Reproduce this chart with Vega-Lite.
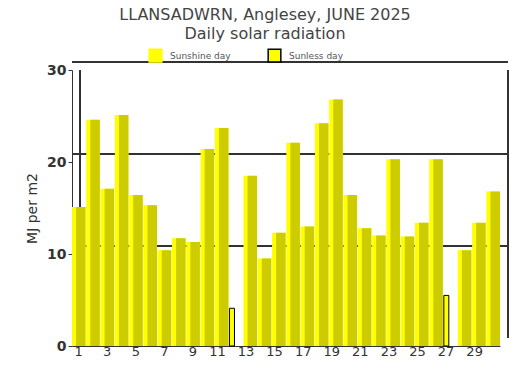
{
  "$schema": "https://vega.github.io/schema/vega-lite/v6.json",
  "autosize": "none",
  "width": 428,
  "height": 276,
  "padding": {"left": 72, "top": 70, "right": 21, "bottom": 32},
  "background": "white",
  "config": {"view": {"stroke": null}, "font": "DejaVu Sans"},
  "title": {
    "text": ["LLANSADWRN, Anglesey, JUNE 2025", "Daily solar radiation"],
    "fontSize": 16,
    "fontWeight": "normal",
    "color": "#444444",
    "anchor": "middle",
    "dx": -21,
    "offset": 6,
    "lineHeight": 19
  },
  "data": {
    "values": [
      {"day": 1, "value": 15.1, "type": "Sunshine day"},
      {"day": 2, "value": 24.6, "type": "Sunshine day"},
      {"day": 3, "value": 17.1, "type": "Sunshine day"},
      {"day": 4, "value": 25.1, "type": "Sunshine day"},
      {"day": 5, "value": 16.4, "type": "Sunshine day"},
      {"day": 6, "value": 15.3, "type": "Sunshine day"},
      {"day": 7, "value": 10.4, "type": "Sunshine day"},
      {"day": 8, "value": 11.7, "type": "Sunshine day"},
      {"day": 9, "value": 11.3, "type": "Sunshine day"},
      {"day": 10, "value": 21.4, "type": "Sunshine day"},
      {"day": 11, "value": 23.7, "type": "Sunshine day"},
      {"day": 12, "value": 4.1, "type": "Sunless day"},
      {"day": 13, "value": 18.5, "type": "Sunshine day"},
      {"day": 14, "value": 9.5, "type": "Sunshine day"},
      {"day": 15, "value": 12.3, "type": "Sunshine day"},
      {"day": 16, "value": 22.1, "type": "Sunshine day"},
      {"day": 17, "value": 13.0, "type": "Sunshine day"},
      {"day": 18, "value": 24.2, "type": "Sunshine day"},
      {"day": 19, "value": 26.8, "type": "Sunshine day"},
      {"day": 20, "value": 16.4, "type": "Sunshine day"},
      {"day": 21, "value": 12.8, "type": "Sunshine day"},
      {"day": 22, "value": 12.0, "type": "Sunshine day"},
      {"day": 23, "value": 20.3, "type": "Sunshine day"},
      {"day": 24, "value": 11.9, "type": "Sunshine day"},
      {"day": 25, "value": 13.4, "type": "Sunshine day"},
      {"day": 26, "value": 20.3, "type": "Sunshine day"},
      {"day": 27, "value": 5.5, "type": "Sunless day"},
      {"day": 28, "value": 10.4, "type": "Sunshine day"},
      {"day": 29, "value": 13.4, "type": "Sunshine day"},
      {"day": 30, "value": 16.8, "type": "Sunshine day"}
    ]
  },
  "layer": [
    {
      "mark": {"type": "rule", "color": "#333333", "strokeWidth": 1, "xOffset": 8, "yOffset": -8},
      "encoding": {"y": {"datum": 10, "type": "quantitative"}}
    },
    {
      "mark": {"type": "rule", "color": "#333333", "strokeWidth": 1, "xOffset": 8, "yOffset": -8},
      "encoding": {"y": {"datum": 20, "type": "quantitative"}}
    },
    {
      "mark": {"type": "rule", "color": "#333333", "strokeWidth": 1, "xOffset": 8, "yOffset": -8},
      "encoding": {"y": {"datum": 30, "type": "quantitative"}}
    },
    {
      "mark": {"type": "rule", "color": "#333333", "strokeWidth": 1, "xOffset": 15, "yOffset": -8},
      "encoding": {
        "x": {"datum": 30, "type": "ordinal"},
        "y": {"datum": 0, "type": "quantitative"},
        "y2": {"datum": 30}
      }
    },
    {
      "mark": {"type": "rule", "color": "#333333", "strokeWidth": 1, "xOffset": 1, "yOffset": -8},
      "encoding": {
        "x": {"datum": 1, "type": "ordinal"},
        "y": {"datum": 0, "type": "quantitative"},
        "y2": {"datum": 30}
      }
    },
    {
      "transform": [{"filter": "datum.type == 'Sunshine day'"}],
      "mark": {"type": "bar", "strokeWidth": 0},
      "encoding": {
        "x": {
          "field": "day",
          "type": "ordinal",
          "scale": {
            "domain": [1, 2, 3, 4, 5, 6, 7, 8, 9, 10, 11, 12, 13, 14, 15, 16, 17, 18, 19, 20, 21, 22, 23, 24, 25, 26, 27, 28, 29, 30],
            "paddingInner": 0.05,
            "paddingOuter": 0
          },
          "axis": {
            "title": null,
            "labelAngle": 0,
            "values": [1, 3, 5, 7, 9, 11, 13, 15, 17, 19, 21, 23, 25, 27, 29],
            "labelFontSize": 13,
            "labelColor": "#333333",
            "ticks": false,
            "labelPadding": 5,
            "labelOffset": 4,
            "domainColor": "#333333"
          }
        },
        "y": {
          "field": "value",
          "type": "quantitative",
          "scale": {"domain": [0, 30], "nice": false},
          "axis": {
            "title": "MJ per m2",
            "titleFontSize": 14,
            "titleFontWeight": "normal",
            "titleColor": "#333333",
            "titlePadding": 7,
            "values": [0, 10, 20, 30],
            "labelFontSize": 14,
            "labelFontWeight": "bold",
            "labelColor": "#333333",
            "grid": false,
            "tickSize": 4,
            "tickColor": "#333333",
            "domainColor": "#333333"
          }
        },
        "color": {
          "field": "type",
          "type": "nominal",
          "scale": {"domain": ["Sunshine day", "Sunless day"], "range": ["#FFFF00", "#FFFF00"]},
          "legend": {
            "title": null,
            "orient": "none",
            "legendX": 76,
            "legendY": -22,
            "direction": "horizontal",
            "symbolType": "square",
            "symbolSize": 160,
            "labelFontSize": 9,
            "labelColor": "#555555",
            "columnPadding": 34,
            "labelOffset": 7
          }
        },
        "stroke": {
          "field": "type",
          "type": "nominal",
          "scale": {"domain": ["Sunshine day", "Sunless day"], "range": ["#FFFF00", "#000000"]},
          "legend": null
        }
      }
    },
    {
      "transform": [{"filter": "datum.type == 'Sunshine day'"}],
      "mark": {"type": "bar", "color": "#CCCC00", "width": 9.5, "xOffset": 2},
      "encoding": {
        "x": {"field": "day", "type": "ordinal"},
        "y": {"field": "value", "type": "quantitative"}
      }
    },
    {
      "transform": [{"filter": "datum.type == 'Sunless day'"}],
      "mark": {"type": "bar", "width": 5, "xOffset": -4, "strokeWidth": 1},
      "encoding": {
        "x": {"field": "day", "type": "ordinal"},
        "y": {"field": "value", "type": "quantitative"},
        "color": {"field": "type", "type": "nominal"},
        "stroke": {"field": "type", "type": "nominal"}
      }
    }
  ]
}
